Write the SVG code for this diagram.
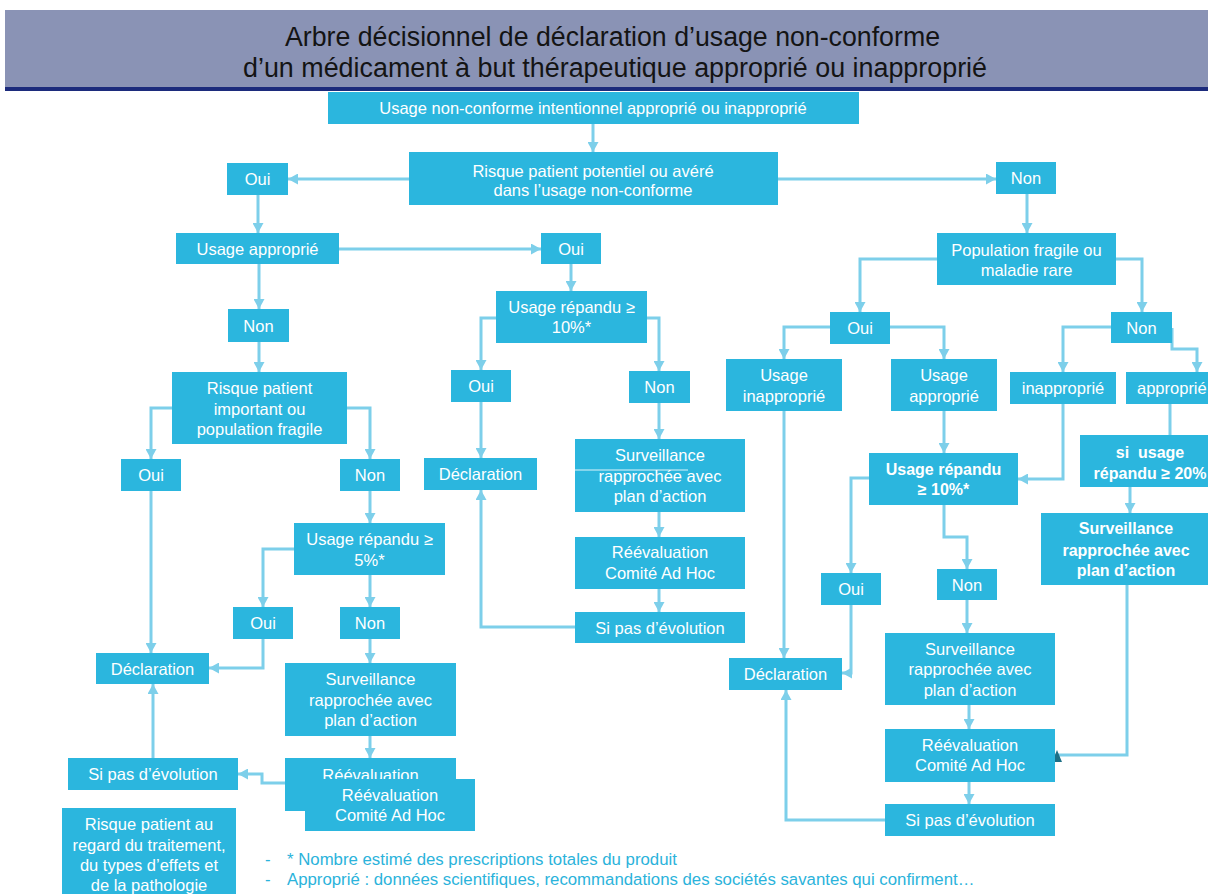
<svg xmlns="http://www.w3.org/2000/svg" width="1208" height="894" viewBox="0 0 1208 894">
<defs>
<style>
.n{fill:#2BB6DE}
.t{fill:#FFFFFF;font-family:"Liberation Sans",Arial,sans-serif;font-size:16.5px;text-anchor:middle}
.b{font-weight:bold;font-size:16px}
.c{fill:none;stroke:#7DCFEA;stroke-width:3}
.ttl{fill:#141414;font-family:"Liberation Sans",Arial,sans-serif;font-size:26.8px}
.note{fill:#2BB3DB;font-family:"Liberation Sans",Arial,sans-serif;font-size:16.8px}
</style>
<marker id="a" markerUnits="userSpaceOnUse" markerWidth="11" markerHeight="11" refX="10" refY="5.5" orient="auto">
<path d="M0,0 L10,5.5 L0,11 z" fill="#7DCFEA"/>
</marker>
</defs>
<rect width="1208" height="894" fill="#FFFFFF"/>
<g id="header">
<rect x="5" y="10" width="1203" height="77" fill="#8A93B5"/>
<rect x="5" y="87" width="1203" height="4" fill="#1C2B7C"/>
<text class="ttl" x="285" y="46" textLength="655" lengthAdjust="spacingAndGlyphs">Arbre décisionnel de déclaration d’usage non-conforme</text>
<text class="ttl" x="243" y="77" textLength="744" lengthAdjust="spacingAndGlyphs">d’un médicament à but thérapeutique approprié ou inapproprié</text>
</g>
<g id="connectors">
<path class="c" marker-end="url(#a)" d="M593,124 V152"/>
<path class="c" marker-end="url(#a)" d="M409,179 H288"/>
<path class="c" marker-end="url(#a)" d="M778,179 H996"/>
<path class="c" marker-end="url(#a)" d="M258,195 V233"/>
<path class="c" marker-end="url(#a)" d="M339,249 H541"/>
<path class="c" marker-end="url(#a)" d="M571,264 V291"/>
<path class="c" marker-end="url(#a)" d="M259,264 V309"/>
<path class="c" marker-end="url(#a)" d="M259,342 V372"/>
<path class="c" marker-end="url(#a)" d="M172,408 H151 V459"/>
<path class="c" marker-end="url(#a)" d="M347,408 H370 V459"/>
<path class="c" marker-end="url(#a)" d="M370,491 V523"/>
<path class="c" marker-end="url(#a)" d="M294,549 H263 V607"/>
<path class="c" marker-end="url(#a)" d="M370,575 V607"/>
<path class="c" marker-end="url(#a)" d="M151,491 V653"/>
<path class="c" marker-end="url(#a)" d="M263,639 V668 H209"/>
<path class="c" marker-end="url(#a)" d="M370,639 V663"/>
<path class="c" marker-end="url(#a)" d="M370,736 V758"/>
<path class="c" marker-end="url(#a)" d="M285,783 H262 V774 H238"/>
<path class="c" marker-end="url(#a)" d="M153,758 V684"/>
<path class="c" marker-end="url(#a)" d="M496,318 H481 V370"/>
<path class="c" marker-end="url(#a)" d="M647,318 H659 V371"/>
<path class="c" marker-end="url(#a)" d="M481,402 V458"/>
<path class="c" marker-end="url(#a)" d="M659,403 V439"/>
<path class="c" marker-end="url(#a)" d="M659,512 V537"/>
<path class="c" marker-end="url(#a)" d="M659,589 V612"/>
<path class="c" marker-end="url(#a)" d="M575,627 H481 V490"/>
<path class="c" marker-end="url(#a)" d="M1027,194 V233"/>
<path class="c" marker-end="url(#a)" d="M937,259 H860 V312"/>
<path class="c" marker-end="url(#a)" d="M1116,259 H1142 V312"/>
<path class="c" marker-end="url(#a)" d="M830,327 H784 V359"/>
<path class="c" marker-end="url(#a)" d="M890,327 H944 V359"/>
<path class="c" marker-end="url(#a)" d="M1111,327 H1063 V372"/>
<path class="c" marker-end="url(#a)" d="M1172,328 V349 H1197 V372"/>
<path class="c" marker-end="url(#a)" d="M944,411 V453"/>
<path class="c" marker-end="url(#a)" d="M1063,404 V479 H1018"/>
<path class="c" d="M1170,404 V436"/>
<path class="c" marker-end="url(#a)" d="M1130,487 V513"/>
<path class="c" marker-end="url(#a)" d="M869,478 H851 V573"/>
<path class="c" marker-end="url(#a)" d="M944,505 V537 H967 V569"/>
<path class="c" marker-end="url(#a)" d="M784,411 V658"/>
<path class="c" marker-end="url(#a)" d="M851,605 V673 H842"/>
<path class="c" marker-end="url(#a)" d="M967,600 V633"/>
<path class="c" marker-end="url(#a)" d="M969,705 V729"/>
<path class="c" marker-end="url(#a)" d="M969,782 V804"/>
<path class="c" marker-end="url(#a)" d="M885,820 H786 V690"/>
<path class="c" d="M1127,585 V755 H1058"/>
<path d="M1057,750 L1052,762 L1062,762 z" fill="#1D6F86"/>
</g>
<g id="n1"><rect class="n" x="328" y="92" width="531" height="32"/><text class="t" x="593" y="114">Usage non-conforme intentionnel approprié ou inapproprié</text></g>
<g id="n2"><rect class="n" x="409" y="152" width="369" height="53"/><text class="t" x="593" y="177">Risque patient potentiel ou avéré</text><text class="t" x="593" y="196">dans l’usage non-conforme</text></g>
<g id="n3"><rect class="n" x="227" y="163" width="61" height="32"/><text class="t" x="257.5" y="185">Oui</text></g>
<g id="n4"><rect class="n" x="996" y="162" width="60" height="32"/><text class="t" x="1026" y="184">Non</text></g>
<g id="n5"><rect class="n" x="176" y="233" width="163" height="31"/><text class="t" x="257.5" y="254.5">Usage approprié</text></g>
<g id="n6"><rect class="n" x="541" y="233" width="60" height="31"/><text class="t" x="571" y="254.5">Oui</text></g>
<g id="n7"><rect class="n" x="496" y="291" width="151" height="52"/><text class="t" x="571.5" y="313">Usage répandu ≥</text><text class="t" x="571.5" y="333">10%*</text></g>
<g id="n8"><rect class="n" x="228" y="309" width="61" height="33"/><text class="t" x="258.5" y="331.5">Non</text></g>
<g id="n9"><rect class="n" x="172" y="372" width="175" height="72"/><text class="t" x="259.5" y="394">Risque patient</text><text class="t" x="259.5" y="414.5">important ou</text><text class="t" x="259.5" y="435">population fragile</text></g>
<g id="n10"><rect class="n" x="121" y="459" width="60" height="32"/><text class="t" x="151" y="481">Oui</text></g>
<g id="n11"><rect class="n" x="340" y="459" width="60" height="32"/><text class="t" x="370" y="481">Non</text></g>
<g id="n12"><rect class="n" x="294" y="523" width="151" height="52"/><text class="t" x="369.5" y="545">Usage répandu ≥</text><text class="t" x="369.5" y="566">5%*</text></g>
<g id="n13"><rect class="n" x="233" y="607" width="60" height="32"/><text class="t" x="263" y="629">Oui</text></g>
<g id="n14"><rect class="n" x="340" y="607" width="60" height="32"/><text class="t" x="370" y="629">Non</text></g>
<g id="n15"><rect class="n" x="96" y="653" width="113" height="31"/><text class="t" x="152.5" y="674.5">Déclaration</text></g>
<g id="n16"><rect class="n" x="285" y="663" width="171" height="73"/><text class="t" x="370.5" y="685">Surveillance</text><text class="t" x="370.5" y="706">rapprochée avec</text><text class="t" x="370.5" y="726">plan d’action</text></g>
<g id="n17"><rect class="n" x="285" y="758" width="171" height="53"/><text class="t" x="370.5" y="781">Réévaluation</text></g>
<g id="n18"><rect class="n" x="305" y="779" width="170" height="52"/><text class="t" x="390" y="801">Réévaluation</text><text class="t" x="390" y="821">Comité Ad Hoc</text></g>
<g id="n19"><rect class="n" x="68" y="758" width="170" height="32"/><text class="t" x="153" y="780">Si pas d’évolution</text></g>
<g id="n20"><rect class="n" x="62" y="808" width="174" height="90"/><text class="t" x="149" y="830">Risque patient au</text><text class="t" x="149" y="850.5">regard du traitement,</text><text class="t" x="149" y="871">du types d’effets et</text><text class="t" x="149" y="891">de la pathologie</text></g>
<g id="n22"><rect class="n" x="451" y="370" width="60" height="32"/><text class="t" x="481" y="392">Oui</text></g>
<g id="n23"><rect class="n" x="629" y="371" width="61" height="32"/><text class="t" x="659.5" y="393">Non</text></g>
<g id="n24"><rect class="n" x="424" y="458" width="113" height="32"/><text class="t" x="480.5" y="480">Déclaration</text></g>
<g id="n25"><rect class="n" x="575" y="439" width="170" height="73"/><text class="t" x="660" y="461">Surveillance</text><text class="t" x="660" y="482">rapprochée avec</text><text class="t" x="660" y="502">plan d’action</text><line x1="575" y1="470" x2="688" y2="470" stroke="#FFFFFF" stroke-width="1.2" opacity="0.85"/></g>
<g id="n26"><rect class="n" x="575" y="537" width="170" height="52"/><text class="t" x="660" y="558">Réévaluation</text><text class="t" x="660" y="579">Comité Ad Hoc</text></g>
<g id="n27"><rect class="n" x="575" y="612" width="170" height="31"/><text class="t" x="660" y="633.5">Si pas d’évolution</text></g>
<g id="n28"><rect class="n" x="937" y="233" width="179" height="52"/><text class="t" x="1026.5" y="256">Population fragile ou</text><text class="t" x="1026.5" y="276">maladie rare</text></g>
<g id="n29"><rect class="n" x="830" y="312" width="60" height="32"/><text class="t" x="860" y="334">Oui</text></g>
<g id="n30"><rect class="n" x="1111" y="312" width="61" height="31"/><text class="t" x="1141.5" y="333.5">Non</text></g>
<g id="n31"><rect class="n" x="726" y="359" width="116" height="52"/><text class="t" x="784" y="381">Usage</text><text class="t" x="784" y="402">inapproprié</text></g>
<g id="n32"><rect class="n" x="891" y="359" width="106" height="52"/><text class="t" x="944" y="381">Usage</text><text class="t" x="944" y="402">approprié</text></g>
<g id="n33"><rect class="n" x="1010" y="372" width="106" height="32"/><text class="t" x="1063" y="394">inapproprié</text></g>
<g id="n34"><rect class="n" x="1126" y="372" width="90" height="32"/><text class="t" x="1137" y="394" style="text-anchor:start">approprié</text></g>
<g id="n35"><rect class="n" x="869" y="453" width="149" height="52"/><text class="t b" x="943.5" y="475">Usage répandu</text><text class="t b" x="943.5" y="495">≥ 10%*</text></g>
<g id="n36"><rect class="n" x="1080" y="435" width="130" height="52"/><text class="t b" x="1150" y="458">si&#160; usage</text><text class="t b" x="1150" y="479">répandu ≥ 20%</text></g>
<g id="n37"><rect class="n" x="1041" y="513" width="170" height="72"/><text class="t b" x="1126" y="534">Surveillance</text><text class="t b" x="1126" y="556">rapprochée avec</text><text class="t b" x="1126" y="576">plan d’action</text></g>
<g id="n38"><rect class="n" x="821" y="573" width="60" height="32"/><text class="t" x="851" y="595">Oui</text></g>
<g id="n39"><rect class="n" x="937" y="569" width="60" height="31"/><text class="t" x="967" y="590.5">Non</text></g>
<g id="n40"><rect class="n" x="729" y="658" width="113" height="32"/><text class="t" x="785.5" y="680">Déclaration</text></g>
<g id="n41"><rect class="n" x="885" y="633" width="170" height="72"/><text class="t" x="970" y="655">Surveillance</text><text class="t" x="970" y="675">rapprochée avec</text><text class="t" x="970" y="696">plan d’action</text></g>
<g id="n42"><rect class="n" x="885" y="729" width="170" height="53"/><text class="t" x="970" y="751">Réévaluation</text><text class="t" x="970" y="771">Comité Ad Hoc</text></g>
<g id="n43"><rect class="n" x="885" y="804" width="170" height="32"/><text class="t" x="970" y="826">Si pas d’évolution</text></g>
<g id="notes">
<text class="note" x="265" y="865">-</text>
<text class="note" x="287" y="865">* Nombre estimé des prescriptions totales du produit</text>
<text class="note" x="265" y="885">-</text>
<text class="note" x="287" y="885">Approprié : données scientifiques, recommandations des sociétés savantes qui confirment…</text>
</g>
</svg>
